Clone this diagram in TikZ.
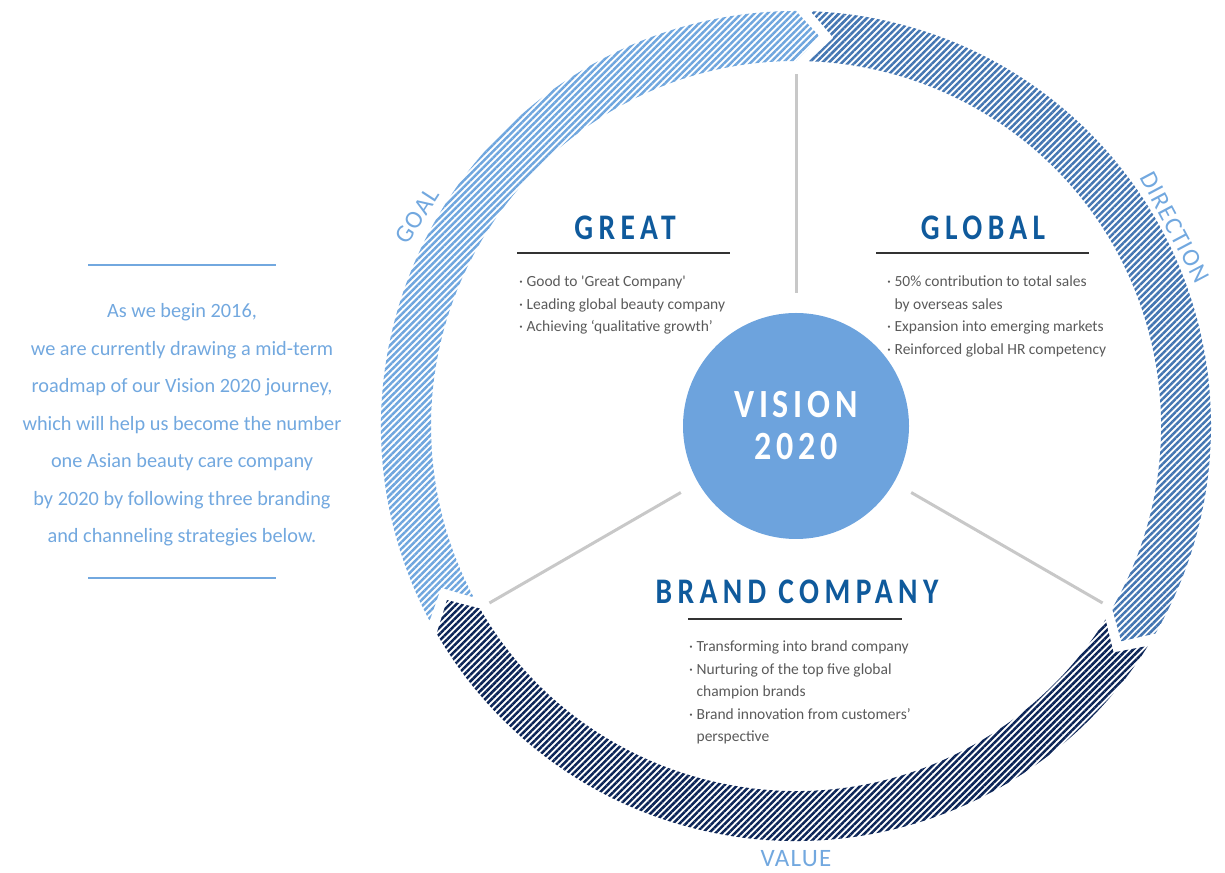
\documentclass[tikz,border=0pt]{standalone}
\usepackage{fontspec}
\setmainfont{Carlito}
\usetikzlibrary{patterns.meta}

\definecolor{goalblue}{HTML}{6FA6DE}
\definecolor{dirblue}{HTML}{4476B2}
\definecolor{valnavy}{HTML}{0C2557}
\definecolor{headblue}{HTML}{0F5A9C}
\definecolor{visionblue}{HTML}{6DA3DD}
\definecolor{textgray}{HTML}{5A5A5A}
\definecolor{spokegray}{HTML}{C8C8C8}
\definecolor{labelblue}{HTML}{72A8DF}

\begin{document}
\begin{tikzpicture}[x=1pt,y=1pt,
	stripes/.style={pattern={Lines[angle=45,distance=4.6pt,line width=2.5pt]}},
	spokeline/.style={spokegray,line width=3pt},
	headrule/.style={black!80,line width=1.1pt},
	introrule/.style={labelblue,line width=1.5pt},
	heading/.style={headblue,inner sep=0pt,font=\fontsize{36}{40}\selectfont\bfseries\addfontfeature{LetterSpace=15,FakeStretch=0.82}},
	bulletlist/.style={textgray,align=left,inner sep=0pt,font=\fontsize{15.5}{22.5}\selectfont},
	ringlabel/.style={labelblue,inner sep=0pt,font=\fontsize{25}{27}\selectfont\addfontfeature{LetterSpace=5}}]
	\useasboundingbox (0,0) rectangle (1225,872);
	\coordinate (c) at (796,446);

	% central circle first
	\fill[visionblue] (c) circle[radius=113];
	\node[align=center,white,font=\fontsize{40}{42}\selectfont\bfseries\addfontfeature{LetterSpace=12,FakeStretch=0.85}] (vision) at (c) {VISION\\2020};

	% the three striped arrows of the ring
	\path[stripes,pattern color=goalblue] ([shift={(208:415)}]c) arc[start angle=208,end angle=90,radius=415] -- ([shift={(86.5:390)}]c) -- ([shift={(90:365)}]c) arc[start angle=90,end angle=208,radius=365] -- ([shift={(204.5:390)}]c) -- cycle;
	\path[stripes,pattern color=dirblue] ([shift={(88:415)}]c) arc[start angle=88,end angle=-30,radius=415] -- ([shift={(-33.5:390)}]c) -- ([shift={(-30:365)}]c) arc[start angle=-30,end angle=88,radius=365] -- ([shift={(84.5:390)}]c) -- cycle;
	\path[stripes,pattern color=valnavy] ([shift={(-32:415)}]c) arc[start angle=-32,end angle=-150,radius=415] -- ([shift={(-153.5:390)}]c) -- ([shift={(-150:365)}]c) arc[start angle=-150,end angle=-32,radius=365] -- ([shift={(-35.5:390)}]c) -- cycle;

	\node[ringlabel,rotate=57] (goal) at ([shift={(151:433)}]c) {GOAL};
	\node[ringlabel,rotate=-62] (direction) at ([shift={(27.7:428)}]c) {DIRECTION};
	\node[ringlabel] (value) at ([shift={(270:433)}]c) {VALUE};

	\coordinate (hub) at (c);
	\draw[spokeline] ([shift={(90:133)}]hub) -- ([shift={(90:352)}]hub);
	\draw[spokeline] ([shift={(210:133)}]hub) -- ([shift={(210:354)}]hub);
	\draw[spokeline] ([shift={(330:133)}]hub) -- ([shift={(330:354)}]hub);

	\node[heading] (great) at (625,644) {GREAT};
	\draw[headrule] (517,619) -- (730,619);
	\node[bulletlist,anchor=north west] (greatlist) at (519,596) {· Good to \textquotesingle Great Company\textquotesingle\\· Leading global beauty company\\· Achieving ‘qualitative growth’};

	\node[heading] (global) at (983,644) {GLOBAL};
	\draw[headrule] (876,619) -- (1089,619);
	\node[bulletlist,anchor=north west] (globallist) at (887,596) {· 50\% contribution to total sales\\\phantom{· }by overseas sales\\· Expansion into emerging markets\\· Reinforced global HR competency};

	\node[heading] (brand) at (797,280) {BRAND COMPANY};
	\draw[headrule] (688,253) -- (902,253);
	\node[bulletlist,anchor=north west] (brandlist) at (689,231) {· Transforming into brand company\\· Nurturing of the top five global\\\phantom{· }champion brands\\· Brand innovation from customers’\\\phantom{· }perspective};

	% intro text on the left
	\draw[introrule] (88,607) -- (276,607);
	\node[labelblue,align=center,font=\fontsize{20.3}{37.5}\selectfont] (intro) at (182,447) {As we begin 2016,\\we are currently drawing a mid-term\\roadmap of our Vision 2020 journey,\\which will help us become the number\\one Asian beauty care company\\by 2020 by following three branding\\and channeling strategies below.};
	\draw[introrule] (88,294) -- (276,294);
\end{tikzpicture}
\end{document}
